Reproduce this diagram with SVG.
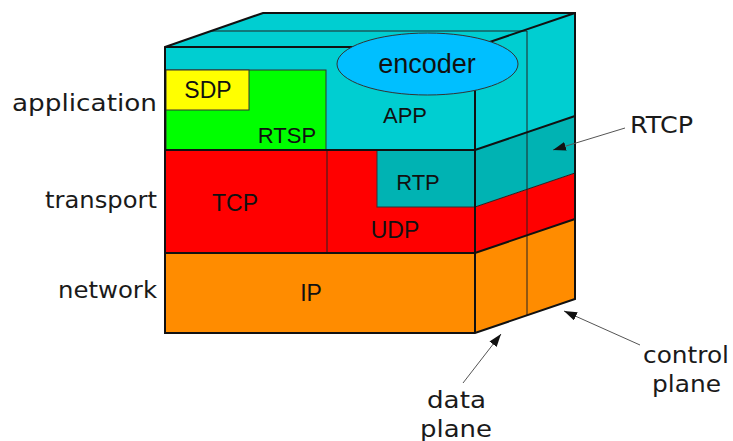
<svg xmlns="http://www.w3.org/2000/svg" width="733" height="441" viewBox="0 0 733 441">
<style>
.edge{fill:none;stroke:#111;stroke-width:2;stroke-linejoin:miter}
.thin{fill:none;stroke:#222;stroke-width:1}
.box{stroke:#333;stroke-width:1}
.lbl{font-family:"Liberation Sans",Arial,sans-serif;fill:#111;text-anchor:middle}
.side{font-family:"DejaVu Sans",sans-serif;font-size:23px;fill:#1a1a1a}
.teal{fill:#00CED1}
.dteal{fill:#00B3B3}
.red{fill:#FF0000}
.orange{fill:#FF8C00}
.conn{stroke:#555;stroke-width:1;fill:none;marker-end:url(#ah)}
</style>
<defs>
<marker id="ah" markerUnits="userSpaceOnUse" markerWidth="13" markerHeight="10" refX="13" refY="4.5" orient="auto">
<path d="M0,0 L13,4.5 L0,9 z" fill="#111"/>
</marker>
</defs>
<rect width="733" height="441" fill="#fff"/>
<g id="cube">
<polygon class="teal" points="165,47 263,13 575,13 475,47"/>
<polygon class="teal" points="475,47 575,13 575,116 475,150"/>
<polygon class="dteal" points="475,150 575,116 575,173 475,207"/>
<polygon class="red" points="475,207 575,173 575,219 475,253"/>
<polygon class="orange" points="475,253 575,219 575,299 475,333"/>
<rect class="teal" x="165" y="47" width="310" height="103"/>
</g>
<g id="app">
<text class="lbl" x="405" y="123" font-size="22">APP</text>
</g>
<g id="rtsp">
<rect x="166" y="70" width="160" height="80" fill="#00FF00" class="box"/>
<text class="lbl" x="287" y="143" font-size="22">RTSP</text>
</g>
<g id="sdp">
<rect x="166" y="70" width="83" height="40" fill="#FFFF00" class="box"/>
<text class="lbl" x="208" y="98" font-size="23">SDP</text>
</g>
<g id="tcp">
<rect x="165" y="150" width="162" height="103" class="red"/>
<text class="lbl" x="235" y="211" font-size="23">TCP</text>
</g>
<g id="udp">
<rect x="327" y="150" width="148" height="103" class="red"/>
<text class="lbl" x="395" y="238" font-size="23">UDP</text>
</g>
<g id="rtp">
<rect x="377" y="150" width="98" height="57" class="dteal box"/>
<text class="lbl" x="418" y="190" font-size="22">RTP</text>
</g>
<g id="ip">
<rect x="165" y="253" width="310" height="80" class="orange"/>
<text class="lbl" x="311" y="301" font-size="23">IP</text>
</g>
<g id="cube-lines">
<line class="thin" x1="327" y1="150" x2="327" y2="253"/>
<line class="thin" x1="212" y1="31" x2="527" y2="31"/>
<line class="thin" x1="527" y1="31" x2="527" y2="315" stroke-width="1.3"/>
<line class="thin" x1="475" y1="207" x2="575" y2="173"/>
<line class="edge" x1="475" y1="47" x2="475" y2="333" stroke-width="1.6"/>
<polyline class="edge" points="165,47 475,47 575,13"/>
<polyline class="edge" points="165,150 475,150 575,116"/>
<polyline class="edge" points="165,253 475,253 575,219"/>
<polygon class="edge" points="165,333 165,47 263,13 575,13 575,299 475,333"/>
</g>
<g id="encoder">
<ellipse cx="427.5" cy="64" rx="90.5" ry="31" fill="#00BFFF" stroke="#333" stroke-width="1"/>
<text class="lbl" x="427" y="73" font-size="27">encoder</text>
</g>
<g id="rtcp">
<text class="side" x="630" y="133" textLength="63" lengthAdjust="spacingAndGlyphs">RTCP</text>
</g>
<g id="layer-labels">
<text class="side" x="12" y="111" textLength="145" lengthAdjust="spacingAndGlyphs">application</text>
<text class="side" x="45" y="208" textLength="112" lengthAdjust="spacingAndGlyphs">transport</text>
<text class="side" x="58" y="298" textLength="99" lengthAdjust="spacingAndGlyphs">network</text>
</g>
<g id="control-plane">
<text class="side" x="643" y="363" textLength="86" lengthAdjust="spacingAndGlyphs">control</text>
<text class="side" x="652" y="392" textLength="69" lengthAdjust="spacingAndGlyphs">plane</text>
</g>
<g id="data-plane">
<text class="side" x="427" y="408" textLength="59" lengthAdjust="spacingAndGlyphs">data</text>
<text class="side" x="420" y="437" textLength="72" lengthAdjust="spacingAndGlyphs">plane</text>
</g>
<g id="connectors">
<line class="conn" x1="625" y1="128" x2="553" y2="150"/>
<line class="conn" x1="640" y1="345" x2="564" y2="311"/>
<line class="conn" x1="463" y1="383" x2="501" y2="334"/>
</g>
</svg>
